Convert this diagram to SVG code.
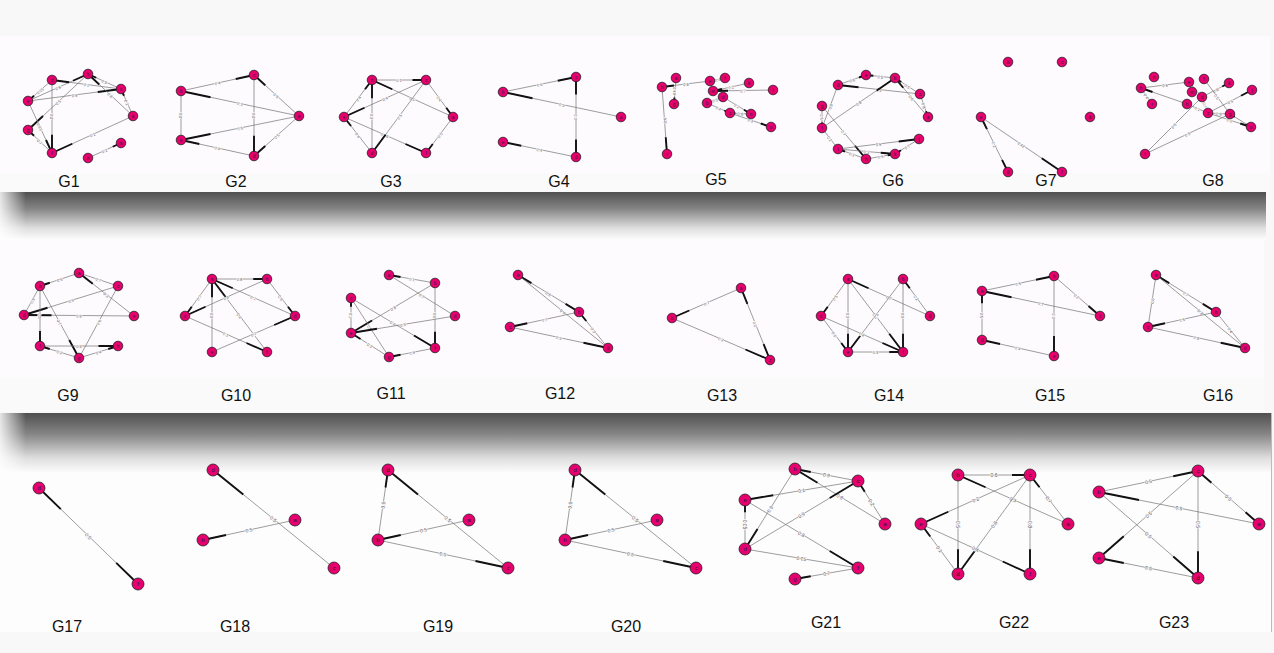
<svg xmlns="http://www.w3.org/2000/svg" xmlns:xlink="http://www.w3.org/1999/xlink" width="1274" height="653" viewBox="0 0 1274 653">
<style>
.e{fill:none;stroke:#7c7c7c;stroke-width:.75}
.s,.f,.b{fill:none;stroke:#111;stroke-width:1.9}
.s{stroke-dasharray:25 300}
.f{stroke-dasharray:0 75 25 300}
.b{stroke-dasharray:22 56 22 300}
.l{font-family:"Liberation Sans",Arial,sans-serif;font-size:4px;fill:#555;text-anchor:middle;dominant-baseline:central;stroke:#fefcfe;stroke-width:1.2;paint-order:stroke}
.l3{font-size:5px}
.n{fill:#e6006f;stroke:#222;stroke-width:.8}
.nl{font-family:"Liberation Sans",Arial,sans-serif;font-size:4.5px;fill:#222;text-anchor:middle}
.r3 .nl{font-size:6px}
.gl{font-family:"Liberation Sans",Arial,sans-serif;font-size:16px;fill:#111;text-anchor:middle}
</style>
<defs>
<linearGradient id="band" x1="0" y1="0" x2="0" y2="1"><stop offset="0" stop-color="#505050"/><stop offset=".35" stop-color="#858585"/><stop offset=".75" stop-color="#dedede"/><stop offset="1" stop-color="#fdfdfd"/></linearGradient>
<linearGradient id="lf" x1="0" y1="0" x2="1" y2="0"><stop offset="0" stop-color="#fff" stop-opacity=".85"/><stop offset="1" stop-color="#fff" stop-opacity="0"/></linearGradient>
<path id="p1_1" pathLength="100" d="M28 101L52 80"/><path id="p1_2" pathLength="100" d="M28 101L88 74"/><path id="p1_3" pathLength="100" d="M28 101L121 89"/><path id="p1_4" pathLength="100" d="M52 80L121 89"/><path id="p1_5" pathLength="100" d="M88 74L121 89"/><path id="p1_6" pathLength="100" d="M88 74L133 116"/><path id="p1_7" pathLength="100" d="M121 89L133 116"/><path id="p1_8" pathLength="100" d="M52 80L52 153"/><path id="p1_9" pathLength="100" d="M28 130L88 74"/><path id="p1_10" pathLength="100" d="M28 101L52 153"/><path id="p1_11" pathLength="100" d="M28 130L52 153"/><path id="p1_12" pathLength="100" d="M52 153L133 116"/><path id="p1_13" pathLength="100" d="M88 158L121 143"/>
<path id="p2_1" pathLength="100" d="M181 91L254 75"/><path id="p2_2" pathLength="100" d="M181 91L299 116"/><path id="p2_3" pathLength="100" d="M181 91L181 140"/><path id="p2_4" pathLength="100" d="M254 75L254 156"/><path id="p2_5" pathLength="100" d="M254 75L299 116"/><path id="p2_6" pathLength="100" d="M181 140L299 116"/><path id="p2_7" pathLength="100" d="M181 140L254 156"/><path id="p2_8" pathLength="100" d="M254 156L299 116"/>
<path id="p3_1" pathLength="100" d="M372 80L426 80"/><path id="p3_2" pathLength="100" d="M344 117L372 80"/><path id="p3_3" pathLength="100" d="M372 80L372 153"/><path id="p3_4" pathLength="100" d="M372 80L453 117"/><path id="p3_5" pathLength="100" d="M344 117L426 80"/><path id="p3_6" pathLength="100" d="M344 117L372 153"/><path id="p3_7" pathLength="100" d="M344 117L426 153"/><path id="p3_8" pathLength="100" d="M372 153L426 80"/><path id="p3_9" pathLength="100" d="M426 80L453 117"/><path id="p3_10" pathLength="100" d="M426 153L453 117"/>
<path id="p4_1" pathLength="100" d="M503 92L576 77"/><path id="p4_2" pathLength="100" d="M503 92L621 117"/><path id="p4_3" pathLength="100" d="M576 77L576 157"/><path id="p4_4" pathLength="100" d="M503 142L576 157"/>
<path id="p5_1" pathLength="100" d="M662 87L710 81"/><path id="p5_2" pathLength="100" d="M667 154L662 87"/><path id="p5_3" pathLength="100" d="M676 78L674 104"/><path id="p5_4" pathLength="100" d="M710 81L725 78"/><path id="p5_5" pathLength="100" d="M713 91L749 83"/><path id="p5_6" pathLength="100" d="M713 91L773 90"/><path id="p5_7" pathLength="100" d="M707 103L723 97"/><path id="p5_8" pathLength="100" d="M723 97L751 114"/><path id="p5_9" pathLength="100" d="M707 103L730 113"/><path id="p5_10" pathLength="100" d="M730 113L751 114"/><path id="p5_11" pathLength="100" d="M730 113L771 127"/>
<path id="p6_1" pathLength="100" d="M838 85L866 75"/><path id="p6_2" pathLength="100" d="M866 75L895 78"/><path id="p6_3" pathLength="100" d="M838 85L920 94"/><path id="p6_4" pathLength="100" d="M822 128L895 78"/><path id="p6_5" pathLength="100" d="M895 78L920 94"/><path id="p6_6" pathLength="100" d="M895 78L928 117"/><path id="p6_7" pathLength="100" d="M920 94L928 117"/><path id="p6_8" pathLength="100" d="M822 106L822 128"/><path id="p6_9" pathLength="100" d="M822 128L838 85"/><path id="p6_10" pathLength="100" d="M822 106L866 159"/><path id="p6_11" pathLength="100" d="M822 128L838 149"/><path id="p6_12" pathLength="100" d="M838 149L919 139"/><path id="p6_13" pathLength="100" d="M838 149L866 159"/><path id="p6_14" pathLength="100" d="M838 149L895 154"/><path id="p6_15" pathLength="100" d="M866 159L895 154"/><path id="p6_16" pathLength="100" d="M895 154L919 139"/>
<path id="p7_1" pathLength="100" d="M981 117L1008 172"/><path id="p7_2" pathLength="100" d="M981 117L1062 172"/>
<path id="p8_1" pathLength="100" d="M1141 88L1189 82"/><path id="p8_2" pathLength="100" d="M1141 88L1152 104"/><path id="p8_3" pathLength="100" d="M1141 88L1187 104"/><path id="p8_4" pathLength="100" d="M1189 82L1202 97"/><path id="p8_5" pathLength="100" d="M1202 97L1229 83"/><path id="p8_6" pathLength="100" d="M1204 79L1230 114"/><path id="p8_7" pathLength="100" d="M1208 113L1252 90"/><path id="p8_8" pathLength="100" d="M1202 97L1208 113"/><path id="p8_9" pathLength="100" d="M1208 113L1230 114"/><path id="p8_10" pathLength="100" d="M1208 113L1251 127"/><path id="p8_11" pathLength="100" d="M1230 114L1251 127"/><path id="p8_12" pathLength="100" d="M1145 154L1202 97"/><path id="p8_13" pathLength="100" d="M1145 154L1230 114"/><path id="p8_14" pathLength="100" d="M1187 104L1208 113"/>
<path id="p9_1" pathLength="100" d="M40 286L79 273"/><path id="p9_2" pathLength="100" d="M79 273L118 286"/><path id="p9_3" pathLength="100" d="M79 273L134 316"/><path id="p9_4" pathLength="100" d="M24 315L40 286"/><path id="p9_5" pathLength="100" d="M40 286L79 358"/><path id="p9_6" pathLength="100" d="M24 315L118 286"/><path id="p9_7" pathLength="100" d="M24 315L134 316"/><path id="p9_8" pathLength="100" d="M40 286L40 346"/><path id="p9_9" pathLength="100" d="M79 358L118 286"/><path id="p9_10" pathLength="100" d="M40 346L79 358"/><path id="p9_11" pathLength="100" d="M40 346L118 346"/><path id="p9_12" pathLength="100" d="M79 358L118 346"/>
<path id="p10_1" pathLength="100" d="M212 279L267 279"/><path id="p10_2" pathLength="100" d="M185 316L212 279"/><path id="p10_3" pathLength="100" d="M212 279L212 352"/><path id="p10_4" pathLength="100" d="M212 279L295 316"/><path id="p10_5" pathLength="100" d="M212 279L267 352"/><path id="p10_6" pathLength="100" d="M185 316L267 279"/><path id="p10_7" pathLength="100" d="M267 279L295 316"/><path id="p10_8" pathLength="100" d="M185 316L267 352"/><path id="p10_9" pathLength="100" d="M212 352L295 316"/>
<path id="p11_1" pathLength="100" d="M389 275L435 283"/><path id="p11_2" pathLength="100" d="M389 275L455 316"/><path id="p11_3" pathLength="100" d="M351 333L435 283"/><path id="p11_4" pathLength="100" d="M435 283L435 348"/><path id="p11_5" pathLength="100" d="M351 298L351 333"/><path id="p11_6" pathLength="100" d="M351 298L435 348"/><path id="p11_7" pathLength="100" d="M351 298L389 357"/><path id="p11_8" pathLength="100" d="M351 333L455 316"/><path id="p11_9" pathLength="100" d="M351 333L389 357"/><path id="p11_10" pathLength="100" d="M389 357L435 348"/>
<path id="p12_1" pathLength="100" d="M518 275L579 312"/><path id="p12_2" pathLength="100" d="M518 275L608 348"/><path id="p12_3" pathLength="100" d="M510 327L579 312"/><path id="p12_4" pathLength="100" d="M510 327L608 348"/><path id="p12_5" pathLength="100" d="M579 312L608 348"/>
<path id="p13_1" pathLength="100" d="M672 318L741 288"/><path id="p13_2" pathLength="100" d="M741 288L770 360"/><path id="p13_3" pathLength="100" d="M672 318L770 360"/>
<path id="p14_1" pathLength="100" d="M821 316L848 279"/><path id="p14_2" pathLength="100" d="M848 279L848 352"/><path id="p14_3" pathLength="100" d="M848 279L930 316"/><path id="p14_4" pathLength="100" d="M848 279L903 352"/><path id="p14_5" pathLength="100" d="M848 352L903 279"/><path id="p14_6" pathLength="100" d="M903 279L903 352"/><path id="p14_7" pathLength="100" d="M903 279L930 316"/><path id="p14_8" pathLength="100" d="M821 316L848 352"/><path id="p14_9" pathLength="100" d="M821 316L903 352"/><path id="p14_10" pathLength="100" d="M848 352L903 352"/>
<path id="p15_1" pathLength="100" d="M982 291L1054 276"/><path id="p15_2" pathLength="100" d="M982 291L1100 316"/><path id="p15_3" pathLength="100" d="M1054 276L1100 316"/><path id="p15_4" pathLength="100" d="M1054 276L1054 356"/><path id="p15_5" pathLength="100" d="M982 291L982 340"/><path id="p15_6" pathLength="100" d="M982 340L1054 356"/>
<path id="p16_1" pathLength="100" d="M1156 275L1216 312"/><path id="p16_2" pathLength="100" d="M1148 327L1156 275"/><path id="p16_3" pathLength="100" d="M1156 275L1245 348"/><path id="p16_4" pathLength="100" d="M1148 327L1216 312"/><path id="p16_5" pathLength="100" d="M1148 327L1245 348"/><path id="p16_6" pathLength="100" d="M1216 312L1245 348"/>
<path id="p17_1" pathLength="100" d="M39 488L138 584"/>
<path id="p18_1" pathLength="100" d="M213 470L334 568"/><path id="p18_2" pathLength="100" d="M203 540L295 520"/>
<path id="p19_1" pathLength="100" d="M378 540L388 470"/><path id="p19_2" pathLength="100" d="M388 470L508 568"/><path id="p19_3" pathLength="100" d="M378 540L469 520"/><path id="p19_4" pathLength="100" d="M378 540L508 568"/>
<path id="p20_1" pathLength="100" d="M565 540L575 470"/><path id="p20_2" pathLength="100" d="M575 470L696 568"/><path id="p20_3" pathLength="100" d="M565 540L657 520"/><path id="p20_4" pathLength="100" d="M565 540L696 568"/>
<path id="p21_1" pathLength="100" d="M795 469L858 481"/><path id="p21_2" pathLength="100" d="M795 469L885 524"/><path id="p21_3" pathLength="100" d="M745 549L795 469"/><path id="p21_4" pathLength="100" d="M745 500L858 481"/><path id="p21_5" pathLength="100" d="M745 500L745 549"/><path id="p21_6" pathLength="100" d="M745 500L858 568"/><path id="p21_7" pathLength="100" d="M745 549L858 481"/><path id="p21_8" pathLength="100" d="M745 549L858 568"/><path id="p21_9" pathLength="100" d="M858 481L885 524"/><path id="p21_10" pathLength="100" d="M795 579L858 568"/>
<path id="p22_1" pathLength="100" d="M958 475L1030 475"/><path id="p22_2" pathLength="100" d="M958 475L1068 524"/><path id="p22_3" pathLength="100" d="M958 475L958 574"/><path id="p22_4" pathLength="100" d="M921 524L1030 475"/><path id="p22_5" pathLength="100" d="M1030 475L1068 524"/><path id="p22_6" pathLength="100" d="M958 574L1030 475"/><path id="p22_7" pathLength="100" d="M1030 475L1030 574"/><path id="p22_8" pathLength="100" d="M921 524L958 574"/><path id="p22_9" pathLength="100" d="M921 524L1030 574"/>
<path id="p23_1" pathLength="100" d="M1099 492L1198 471"/><path id="p23_2" pathLength="100" d="M1198 471L1259 524"/><path id="p23_3" pathLength="100" d="M1099 492L1259 524"/><path id="p23_4" pathLength="100" d="M1099 558L1198 471"/><path id="p23_5" pathLength="100" d="M1198 471L1198 578"/><path id="p23_6" pathLength="100" d="M1099 492L1198 578"/><path id="p23_7" pathLength="100" d="M1099 558L1198 578"/>
</defs>

<g id="background">
<rect width="1274" height="653" fill="#f8f8f8"/>
<rect x="0" y="36" width="1270" height="137" fill="#fefbfe"/>
<rect x="0" y="173" width="1270" height="19" fill="#fafafa"/>
<rect x="0" y="192" width="1266" height="48" fill="url(#band)"/>
<rect x="0" y="192" width="26" height="48" fill="url(#lf)"/>
<rect x="0" y="240" width="1264" height="138" fill="#fefbfe"/>
<rect x="0" y="378" width="1264" height="34" fill="#fafafa"/>
<rect x="0" y="413" width="1272" height="60" fill="url(#band)"/>
<rect x="0" y="413" width="26" height="60" fill="url(#lf)"/>
<rect x="0" y="473" width="1272" height="159" fill="#fefdfe"/>
<line x1="1271.5" y1="413" x2="1271.5" y2="632" stroke="#bbb" stroke-width="1"/>
</g>

<!-- Row 1 -->
<g id="G1">
<g class="connectors">
<use href="#p1_1" class="e"/><use href="#p1_1" class="s"/><text class="l"><textPath href="#p1_1" startOffset="50%">0.05</textPath></text>
<use href="#p1_2" class="e"/><use href="#p1_2" class="f"/><text class="l"><textPath href="#p1_2" startOffset="50%">0.6</textPath></text>
<use href="#p1_3" class="e"/><use href="#p1_3" class="f"/><text class="l"><textPath href="#p1_3" startOffset="50%">0.9</textPath></text>
<use href="#p1_4" class="e"/><use href="#p1_4" class="s"/><text class="l"><textPath href="#p1_4" startOffset="50%">0.1</textPath></text>
<use href="#p1_5" class="e"/><use href="#p1_5" class="s"/><text class="l"><textPath href="#p1_5" startOffset="50%">0.9</textPath></text>
<use href="#p1_6" class="e"/><use href="#p1_6" class="s"/><text class="l"><textPath href="#p1_6" startOffset="50%">0.8</textPath></text>
<use href="#p1_7" class="e"/><use href="#p1_7" class="s"/><text class="l"><textPath href="#p1_7" startOffset="50%">0.2</textPath></text>
<use href="#p1_8" class="e"/><use href="#p1_8" class="f"/><text class="l"><textPath href="#p1_8" startOffset="50%">0.4</textPath></text>
<use href="#p1_9" class="e"/><use href="#p1_9" class="s"/><text class="l"><textPath href="#p1_9" startOffset="50%">0.5</textPath></text>
<use href="#p1_10" class="e"/><use href="#p1_10" class="f"/><text class="l"><textPath href="#p1_10" startOffset="50%">0.05</textPath></text>
<use href="#p1_11" class="e"/><use href="#p1_11" class="s"/><text class="l"><textPath href="#p1_11" startOffset="50%">0.7</textPath></text>
<use href="#p1_12" class="e"/><use href="#p1_12" class="s"/><text class="l"><textPath href="#p1_12" startOffset="50%">0.1</textPath></text>
<use href="#p1_13" class="e"/><use href="#p1_13" class="f"/><text class="l"><textPath href="#p1_13" startOffset="50%">0.2</textPath></text>
</g>
<g id="G1-d"><circle class="n" cx="52" cy="80" r="4.8"/><text class="nl" x="52" y="81.6">d</text></g>
<g id="G1-b"><circle class="n" cx="88" cy="74" r="4.8"/><text class="nl" x="88" y="75.6">b</text></g>
<g id="G1-c"><circle class="n" cx="121" cy="89" r="4.8"/><text class="nl" x="121" y="90.6">c</text></g>
<g id="G1-a"><circle class="n" cx="133" cy="116" r="4.8"/><text class="nl" x="133" y="117.6">a</text></g>
<g id="G1-e"><circle class="n" cx="28" cy="101" r="4.8"/><text class="nl" x="28" y="102.6">e</text></g>
<g id="G1-g"><circle class="n" cx="28" cy="130" r="4.8"/><text class="nl" x="28" y="131.6">g</text></g>
<g id="G1-f"><circle class="n" cx="52" cy="153" r="4.8"/><text class="nl" x="52" y="154.6">f</text></g>
<g id="G1-h"><circle class="n" cx="88" cy="158" r="4.8"/><text class="nl" x="88" y="159.6">h</text></g>
<g id="G1-m"><circle class="n" cx="121" cy="143" r="4.8"/><text class="nl" x="121" y="144.6">m</text></g>
<text class="gl" x="69" y="187">G1</text>
</g>

<g id="G2">
<g class="connectors">
<use href="#p2_1" class="e"/><use href="#p2_1" class="f"/><text class="l"><textPath href="#p2_1" startOffset="50%">0.4</textPath></text>
<use href="#p2_2" class="e"/><use href="#p2_2" class="s"/><text class="l"><textPath href="#p2_2" startOffset="50%">0.3</textPath></text>
<use href="#p2_3" class="e"/><text class="l"><textPath href="#p2_3" startOffset="50%">0.4</textPath></text>
<use href="#p2_4" class="e"/><use href="#p2_4" class="f"/><text class="l"><textPath href="#p2_4" startOffset="50%">0.4</textPath></text>
<use href="#p2_5" class="e"/><use href="#p2_5" class="s"/><text class="l"><textPath href="#p2_5" startOffset="50%">0.5</textPath></text>
<use href="#p2_6" class="e"/><use href="#p2_6" class="s"/><text class="l"><textPath href="#p2_6" startOffset="50%">0.5</textPath></text>
<use href="#p2_7" class="e"/><use href="#p2_7" class="s"/><text class="l"><textPath href="#p2_7" startOffset="50%">0.4</textPath></text>
<use href="#p2_8" class="e"/><use href="#p2_8" class="s"/><text class="l"><textPath href="#p2_8" startOffset="50%">0.5</textPath></text>
</g>
<g id="G2-b"><circle class="n" cx="181" cy="91" r="4.8"/><text class="nl" x="181" y="92.6">b</text></g>
<g id="G2-c"><circle class="n" cx="254" cy="75" r="4.8"/><text class="nl" x="254" y="76.6">c</text></g>
<g id="G2-a"><circle class="n" cx="299" cy="116" r="4.8"/><text class="nl" x="299" y="117.6">a</text></g>
<g id="G2-e"><circle class="n" cx="181" cy="140" r="4.8"/><text class="nl" x="181" y="141.6">e</text></g>
<g id="G2-d"><circle class="n" cx="254" cy="156" r="4.8"/><text class="nl" x="254" y="157.6">d</text></g>
<text class="gl" x="236" y="187">G2</text>
</g>

<g id="G3">
<g class="connectors">
<use href="#p3_1" class="e"/><use href="#p3_1" class="f"/><text class="l"><textPath href="#p3_1" startOffset="50%">0.1</textPath></text>
<use href="#p3_2" class="e"/><use href="#p3_2" class="f"/><text class="l"><textPath href="#p3_2" startOffset="50%">0.4</textPath></text>
<use href="#p3_3" class="e"/><use href="#p3_3" class="s"/><text class="l"><textPath href="#p3_3" startOffset="50%">0.2</textPath></text>
<use href="#p3_4" class="e"/><use href="#p3_4" class="s"/><text class="l"><textPath href="#p3_4" startOffset="50%">0.5</textPath></text>
<use href="#p3_5" class="e"/><use href="#p3_5" class="s"/><text class="l"><textPath href="#p3_5" startOffset="50%">0.4</textPath></text>
<use href="#p3_6" class="e"/><use href="#p3_6" class="s"/><text class="l"><textPath href="#p3_6" startOffset="50%">0.4</textPath></text>
<use href="#p3_7" class="e"/><use href="#p3_7" class="f"/><text class="l"><textPath href="#p3_7" startOffset="50%">0.06</textPath></text>
<use href="#p3_8" class="e"/><use href="#p3_8" class="s"/><text class="l"><textPath href="#p3_8" startOffset="50%">0.5</textPath></text>
<use href="#p3_9" class="e"/><use href="#p3_9" class="f"/><text class="l"><textPath href="#p3_9" startOffset="50%">0.4</textPath></text>
<use href="#p3_10" class="e"/><use href="#p3_10" class="s"/><text class="l"><textPath href="#p3_10" startOffset="50%">0.5</textPath></text>
</g>
<g id="G3-b"><circle class="n" cx="372" cy="80" r="4.8"/><text class="nl" x="372" y="81.6">b</text></g>
<g id="G3-c"><circle class="n" cx="426" cy="80" r="4.8"/><text class="nl" x="426" y="81.6">c</text></g>
<g id="G3-e"><circle class="n" cx="344" cy="117" r="4.8"/><text class="nl" x="344" y="118.6">e</text></g>
<g id="G3-d"><circle class="n" cx="372" cy="153" r="4.8"/><text class="nl" x="372" y="154.6">d</text></g>
<g id="G3-f"><circle class="n" cx="426" cy="153" r="4.8"/><text class="nl" x="426" y="154.6">f</text></g>
<g id="G3-a"><circle class="n" cx="453" cy="117" r="4.8"/><text class="nl" x="453" y="118.6">a</text></g>
<text class="gl" x="391" y="187">G3</text>
</g>

<g id="G4">
<g class="connectors">
<use href="#p4_1" class="e"/><use href="#p4_1" class="f"/><text class="l"><textPath href="#p4_1" startOffset="50%">0.6</textPath></text>
<use href="#p4_2" class="e"/><use href="#p4_2" class="s"/><text class="l"><textPath href="#p4_2" startOffset="50%">0.5</textPath></text>
<use href="#p4_3" class="e"/><use href="#p4_3" class="b"/><text class="l"><textPath href="#p4_3" startOffset="50%">0.3</textPath></text>
<use href="#p4_4" class="e"/><use href="#p4_4" class="s"/><text class="l"><textPath href="#p4_4" startOffset="50%">0.4</textPath></text>
</g>
<g id="G4-b"><circle class="n" cx="503" cy="92" r="4.8"/><text class="nl" x="503" y="93.6">b</text></g>
<g id="G4-c"><circle class="n" cx="576" cy="77" r="4.8"/><text class="nl" x="576" y="78.6">c</text></g>
<g id="G4-a"><circle class="n" cx="621" cy="117" r="4.8"/><text class="nl" x="621" y="118.6">a</text></g>
<g id="G4-e"><circle class="n" cx="503" cy="142" r="4.8"/><text class="nl" x="503" y="143.6">e</text></g>
<g id="G4-d"><circle class="n" cx="576" cy="157" r="4.8"/><text class="nl" x="576" y="158.6">d</text></g>
<text class="gl" x="559" y="187">G4</text>
</g>

<g id="G5">
<g class="connectors">
<use href="#p5_1" class="e"/><use href="#p5_1" class="s"/><text class="l"><textPath href="#p5_1" startOffset="50%">0.6</textPath></text>
<use href="#p5_2" class="e"/><use href="#p5_2" class="s"/><text class="l"><textPath href="#p5_2" startOffset="50%">0.6</textPath></text>
<use href="#p5_3" class="e"/><use href="#p5_3" class="f"/><text class="l"><textPath href="#p5_3" startOffset="50%">0.48</textPath></text>
<use href="#p5_4" class="e"/><use href="#p5_4" class="f"/><text class="l"><textPath href="#p5_4" startOffset="50%">0.4</textPath></text>
<use href="#p5_5" class="e"/><use href="#p5_5" class="s"/><text class="l"><textPath href="#p5_5" startOffset="50%">0.2</textPath></text>
<use href="#p5_6" class="e"/><use href="#p5_6" class="s"/><text class="l"><textPath href="#p5_6" startOffset="50%">0.7</textPath></text>
<use href="#p5_7" class="e"/><text class="l"><textPath href="#p5_7" startOffset="50%">0.5</textPath></text>
<use href="#p5_8" class="e"/><use href="#p5_8" class="f"/><text class="l"><textPath href="#p5_8" startOffset="50%">0.2</textPath></text>
<use href="#p5_9" class="e"/><use href="#p5_9" class="f"/><text class="l"><textPath href="#p5_9" startOffset="50%">0.4</textPath></text>
<use href="#p5_10" class="e"/><use href="#p5_10" class="s"/><text class="l"><textPath href="#p5_10" startOffset="50%">0.6</textPath></text>
<use href="#p5_11" class="e"/><use href="#p5_11" class="f"/><text class="l"><textPath href="#p5_11" startOffset="50%">0.3</textPath></text>
</g>
<g id="G5-h"><circle class="n" cx="662" cy="87" r="4.8"/><text class="nl" x="662" y="88.6">h</text></g>
<g id="G5-a"><circle class="n" cx="676" cy="78" r="4.8"/><text class="nl" x="676" y="79.6">a</text></g>
<g id="G5-g"><circle class="n" cx="674" cy="104" r="4.8"/><text class="nl" x="674" y="105.6">g</text></g>
<g id="G5-i"><circle class="n" cx="667" cy="154" r="4.8"/><text class="nl" x="667" y="155.6">i</text></g>
<g id="G5-e"><circle class="n" cx="710" cy="81" r="4.8"/><text class="nl" x="710" y="82.6">e</text></g>
<g id="G5-f"><circle class="n" cx="725" cy="78" r="4.8"/><text class="nl" x="725" y="79.6">f</text></g>
<g id="G5-k"><circle class="n" cx="749" cy="83" r="4.8"/><text class="nl" x="749" y="84.6">k</text></g>
<g id="G5-l"><circle class="n" cx="773" cy="90" r="4.8"/><text class="nl" x="773" y="91.6">l</text></g>
<g id="G5-m"><circle class="n" cx="713" cy="91" r="4.8"/><text class="nl" x="713" y="92.6">m</text></g>
<g id="G5-d"><circle class="n" cx="723" cy="97" r="4.8"/><text class="nl" x="723" y="98.6">d</text></g>
<g id="G5-b"><circle class="n" cx="707" cy="103" r="4.8"/><text class="nl" x="707" y="104.6">b</text></g>
<g id="G5-c"><circle class="n" cx="730" cy="113" r="4.8"/><text class="nl" x="730" y="114.6">c</text></g>
<g id="G5-n"><circle class="n" cx="751" cy="114" r="4.8"/><text class="nl" x="751" y="115.6">n</text></g>
<g id="G5-o"><circle class="n" cx="771" cy="127" r="4.8"/><text class="nl" x="771" y="128.6">o</text></g>
<text class="gl" x="716" y="185">G5</text>
</g>

<g id="G6">
<g class="connectors">
<use href="#p6_1" class="e"/><use href="#p6_1" class="f"/><text class="l"><textPath href="#p6_1" startOffset="50%">0.6</textPath></text>
<use href="#p6_2" class="e"/><use href="#p6_2" class="s"/><text class="l"><textPath href="#p6_2" startOffset="50%">0.5</textPath></text>
<use href="#p6_3" class="e"/><use href="#p6_3" class="s"/><text class="l"><textPath href="#p6_3" startOffset="50%">0.3</textPath></text>
<use href="#p6_4" class="e"/><use href="#p6_4" class="f"/><text class="l"><textPath href="#p6_4" startOffset="50%">0.8</textPath></text>
<use href="#p6_5" class="e"/><use href="#p6_5" class="s"/><text class="l"><textPath href="#p6_5" startOffset="50%">0.5</textPath></text>
<use href="#p6_6" class="e"/><use href="#p6_6" class="s"/><text class="l"><textPath href="#p6_6" startOffset="50%">0.6</textPath></text>
<use href="#p6_7" class="e"/><use href="#p6_7" class="f"/><text class="l"><textPath href="#p6_7" startOffset="50%">0.8</textPath></text>
<use href="#p6_8" class="e"/><use href="#p6_8" class="f"/><text class="l"><textPath href="#p6_8" startOffset="50%">0.5</textPath></text>
<use href="#p6_9" class="e"/><text class="l"><textPath href="#p6_9" startOffset="50%">0.8</textPath></text>
<use href="#p6_10" class="e"/><use href="#p6_10" class="f"/><text class="l"><textPath href="#p6_10" startOffset="50%">0.7</textPath></text>
<use href="#p6_11" class="e"/><text class="l"><textPath href="#p6_11" startOffset="50%">0.2</textPath></text>
<use href="#p6_12" class="e"/><use href="#p6_12" class="f"/><text class="l"><textPath href="#p6_12" startOffset="50%">0.5</textPath></text>
<use href="#p6_13" class="e"/><use href="#p6_13" class="s"/><text class="l"><textPath href="#p6_13" startOffset="50%">0.3</textPath></text>
<use href="#p6_14" class="e"/><use href="#p6_14" class="f"/><text class="l"><textPath href="#p6_14" startOffset="50%">0.3</textPath></text>
<use href="#p6_15" class="e"/><use href="#p6_15" class="f"/><text class="l"><textPath href="#p6_15" startOffset="50%">0.5</textPath></text>
<use href="#p6_16" class="e"/><use href="#p6_16" class="s"/><text class="l"><textPath href="#p6_16" startOffset="50%">0.7</textPath></text>
</g>
<g id="G6-e"><circle class="n" cx="866" cy="75" r="4.8"/><text class="nl" x="866" y="76.6">e</text></g>
<g id="G6-b"><circle class="n" cx="895" cy="78" r="4.8"/><text class="nl" x="895" y="79.6">b</text></g>
<g id="G6-d"><circle class="n" cx="838" cy="85" r="4.8"/><text class="nl" x="838" y="86.6">d</text></g>
<g id="G6-c"><circle class="n" cx="920" cy="94" r="4.8"/><text class="nl" x="920" y="95.6">c</text></g>
<g id="G6-a"><circle class="n" cx="928" cy="117" r="4.8"/><text class="nl" x="928" y="118.6">a</text></g>
<g id="G6-g"><circle class="n" cx="822" cy="106" r="4.8"/><text class="nl" x="822" y="107.6">g</text></g>
<g id="G6-f"><circle class="n" cx="822" cy="128" r="4.8"/><text class="nl" x="822" y="129.6">f</text></g>
<g id="G6-i"><circle class="n" cx="838" cy="149" r="4.8"/><text class="nl" x="838" y="150.6">i</text></g>
<g id="G6-h"><circle class="n" cx="866" cy="159" r="4.8"/><text class="nl" x="866" y="160.6">h</text></g>
<g id="G6-k"><circle class="n" cx="895" cy="154" r="4.8"/><text class="nl" x="895" y="155.6">k</text></g>
<g id="G6-j"><circle class="n" cx="919" cy="139" r="4.8"/><text class="nl" x="919" y="140.6">j</text></g>
<text class="gl" x="893" y="186">G6</text>
</g>

<g id="G7">
<g class="connectors">
<use href="#p7_1" class="e"/><use href="#p7_1" class="b"/><text class="l"><textPath href="#p7_1" startOffset="50%">0.2</textPath></text>
<use href="#p7_2" class="e"/><use href="#p7_2" class="f"/><text class="l"><textPath href="#p7_2" startOffset="50%">0.42</textPath></text>
</g>
<g id="G7-b"><circle class="n" cx="1008" cy="62" r="4.8"/><text class="nl" x="1008" y="63.6">b</text></g>
<g id="G7-c"><circle class="n" cx="1062" cy="62" r="4.8"/><text class="nl" x="1062" y="63.6">c</text></g>
<g id="G7-e"><circle class="n" cx="981" cy="117" r="4.8"/><text class="nl" x="981" y="118.6">e</text></g>
<g id="G7-a"><circle class="n" cx="1090" cy="117" r="4.8"/><text class="nl" x="1090" y="118.6">a</text></g>
<g id="G7-d"><circle class="n" cx="1008" cy="172" r="4.8"/><text class="nl" x="1008" y="173.6">d</text></g>
<g id="G7-f"><circle class="n" cx="1062" cy="172" r="4.8"/><text class="nl" x="1062" y="173.6">f</text></g>
<text class="gl" x="1046" y="186">G7</text>
</g>

<g id="G8">
<g class="connectors">
<use href="#p8_1" class="e"/><text class="l"><textPath href="#p8_1" startOffset="50%">0.5</textPath></text>
<use href="#p8_2" class="e"/><use href="#p8_2" class="f"/><text class="l"><textPath href="#p8_2" startOffset="50%">0.4</textPath></text>
<use href="#p8_3" class="e"/><use href="#p8_3" class="s"/>
<use href="#p8_4" class="e"/><use href="#p8_4" class="s"/><text class="l"><textPath href="#p8_4" startOffset="50%">0.5</textPath></text>
<use href="#p8_5" class="e"/><use href="#p8_5" class="f"/><text class="l"><textPath href="#p8_5" startOffset="50%">0.6</textPath></text>
<use href="#p8_6" class="e"/><text class="l"><textPath href="#p8_6" startOffset="50%">0.5</textPath></text>
<use href="#p8_7" class="e"/><use href="#p8_7" class="f"/><text class="l"><textPath href="#p8_7" startOffset="50%">0.5</textPath></text>
<use href="#p8_8" class="e"/><text class="l"><textPath href="#p8_8" startOffset="50%">0.7</textPath></text>
<use href="#p8_9" class="e"/><text class="l"><textPath href="#p8_9" startOffset="50%">0.6</textPath></text>
<use href="#p8_10" class="e"/><use href="#p8_10" class="f"/><text class="l"><textPath href="#p8_10" startOffset="50%">0.1</textPath></text>
<use href="#p8_11" class="e"/><use href="#p8_11" class="b"/>
<use href="#p8_12" class="e"/><text class="l"><textPath href="#p8_12" startOffset="50%">0.5</textPath></text>
<use href="#p8_13" class="e"/><text class="l"><textPath href="#p8_13" startOffset="50%">0.5</textPath></text>
<use href="#p8_14" class="e"/><text class="l"><textPath href="#p8_14" startOffset="50%">0.1</textPath></text>
</g>
<g id="G8-h"><circle class="n" cx="1141" cy="88" r="4.8"/><text class="nl" x="1141" y="89.6">h</text></g>
<g id="G8-n"><circle class="n" cx="1154" cy="77" r="4.8"/><text class="nl" x="1154" y="78.6">n</text></g>
<g id="G8-i"><circle class="n" cx="1152" cy="104" r="4.8"/><text class="nl" x="1152" y="105.6">i</text></g>
<g id="G8-e"><circle class="n" cx="1189" cy="82" r="4.8"/><text class="nl" x="1189" y="83.6">e</text></g>
<g id="G8-m"><circle class="n" cx="1192" cy="92" r="4.8"/><text class="nl" x="1192" y="93.6">m</text></g>
<g id="G8-f"><circle class="n" cx="1204" cy="79" r="4.8"/><text class="nl" x="1204" y="80.6">f</text></g>
<g id="G8-k"><circle class="n" cx="1229" cy="83" r="4.8"/><text class="nl" x="1229" y="84.6">k</text></g>
<g id="G8-j"><circle class="n" cx="1252" cy="90" r="4.8"/><text class="nl" x="1252" y="91.6">j</text></g>
<g id="G8-d"><circle class="n" cx="1202" cy="97" r="4.8"/><text class="nl" x="1202" y="98.6">d</text></g>
<g id="G8-b"><circle class="n" cx="1187" cy="104" r="4.8"/><text class="nl" x="1187" y="105.6">b</text></g>
<g id="G8-c"><circle class="n" cx="1208" cy="113" r="4.8"/><text class="nl" x="1208" y="114.6">c</text></g>
<g id="G8-g"><circle class="n" cx="1230" cy="114" r="4.8"/><text class="nl" x="1230" y="115.6">g</text></g>
<g id="G8-o"><circle class="n" cx="1251" cy="127" r="4.8"/><text class="nl" x="1251" y="128.6">o</text></g>
<g id="G8-l"><circle class="n" cx="1145" cy="154" r="4.8"/><text class="nl" x="1145" y="155.6">l</text></g>
<text class="gl" x="1213" y="186">G8</text>
</g>

<!-- Row 2 -->
<g id="G9">
<g class="connectors">
<use href="#p9_1" class="e"/><use href="#p9_1" class="s"/><text class="l"><textPath href="#p9_1" startOffset="50%">0.5</textPath></text>
<use href="#p9_2" class="e"/><text class="l"><textPath href="#p9_2" startOffset="50%">0.7</textPath></text>
<use href="#p9_3" class="e"/><use href="#p9_3" class="s"/><text class="l"><textPath href="#p9_3" startOffset="50%">0.3</textPath></text>
<use href="#p9_4" class="e"/><text class="l"><textPath href="#p9_4" startOffset="50%">0.8</textPath></text>
<use href="#p9_5" class="e"/><use href="#p9_5" class="f"/><text class="l"><textPath href="#p9_5" startOffset="50%">0.7</textPath></text>
<use href="#p9_6" class="e"/><use href="#p9_6" class="s"/><text class="l"><textPath href="#p9_6" startOffset="50%">0.5</textPath></text>
<use href="#p9_7" class="e"/><use href="#p9_7" class="s"/><text class="l"><textPath href="#p9_7" startOffset="50%">0.6</textPath></text>
<use href="#p9_8" class="e"/><use href="#p9_8" class="f"/><text class="l"><textPath href="#p9_8" startOffset="50%">0.4</textPath></text>
<use href="#p9_9" class="e"/><text class="l"><textPath href="#p9_9" startOffset="50%">0.6</textPath></text>
<use href="#p9_10" class="e"/><use href="#p9_10" class="s"/><text class="l"><textPath href="#p9_10" startOffset="50%">0.2</textPath></text>
<use href="#p9_11" class="e"/><use href="#p9_11" class="f"/><text class="l"><textPath href="#p9_11" startOffset="50%">0.4</textPath></text>
<use href="#p9_12" class="e"/><use href="#p9_12" class="f"/><text class="l"><textPath href="#p9_12" startOffset="50%">0.4</textPath></text>
</g>
<g id="G9-a"><circle class="n" cx="79" cy="273" r="4.8"/><text class="nl" x="79" y="274.6">a</text></g>
<g id="G9-b"><circle class="n" cx="40" cy="286" r="4.8"/><text class="nl" x="40" y="287.6">b</text></g>
<g id="G9-c"><circle class="n" cx="118" cy="286" r="4.8"/><text class="nl" x="118" y="287.6">c</text></g>
<g id="G9-d"><circle class="n" cx="24" cy="315" r="4.8"/><text class="nl" x="24" y="316.6">d</text></g>
<g id="G9-e"><circle class="n" cx="134" cy="316" r="4.8"/><text class="nl" x="134" y="317.6">e</text></g>
<g id="G9-f"><circle class="n" cx="40" cy="346" r="4.8"/><text class="nl" x="40" y="347.6">f</text></g>
<g id="G9-g"><circle class="n" cx="79" cy="358" r="4.8"/><text class="nl" x="79" y="359.6">g</text></g>
<g id="G9-h"><circle class="n" cx="118" cy="346" r="4.8"/><text class="nl" x="118" y="347.6">h</text></g>
<text class="gl" x="68" y="401">G9</text>
</g>

<g id="G10">
<g class="connectors">
<use href="#p10_1" class="e"/><use href="#p10_1" class="f"/><text class="l"><textPath href="#p10_1" startOffset="50%">0.8</textPath></text>
<use href="#p10_2" class="e"/><use href="#p10_2" class="s"/><text class="l"><textPath href="#p10_2" startOffset="50%">0.7</textPath></text>
<use href="#p10_3" class="e"/><use href="#p10_3" class="s"/><text class="l"><textPath href="#p10_3" startOffset="50%">0.9</textPath></text>
<use href="#p10_4" class="e"/><use href="#p10_4" class="s"/><text class="l"><textPath href="#p10_4" startOffset="50%">0.1</textPath></text>
<use href="#p10_5" class="e"/><use href="#p10_5" class="s"/><text class="l"><textPath href="#p10_5" startOffset="50%">0.4</textPath></text>
<use href="#p10_6" class="e"/><use href="#p10_6" class="s"/><text class="l"><textPath href="#p10_6" startOffset="50%">0.8</textPath></text>
<use href="#p10_7" class="e"/><use href="#p10_7" class="f"/><text class="l"><textPath href="#p10_7" startOffset="50%">0.8</textPath></text>
<use href="#p10_8" class="e"/><use href="#p10_8" class="f"/><text class="l"><textPath href="#p10_8" startOffset="50%">0.1</textPath></text>
<use href="#p10_9" class="e"/><use href="#p10_9" class="f"/><text class="l"><textPath href="#p10_9" startOffset="50%">0.7</textPath></text>
</g>
<g id="G10-a"><circle class="n" cx="212" cy="279" r="4.8"/><text class="nl" x="212" y="280.6">a</text></g>
<g id="G10-b"><circle class="n" cx="267" cy="279" r="4.8"/><text class="nl" x="267" y="280.6">b</text></g>
<g id="G10-c"><circle class="n" cx="185" cy="316" r="4.8"/><text class="nl" x="185" y="317.6">c</text></g>
<g id="G10-d"><circle class="n" cx="295" cy="316" r="4.8"/><text class="nl" x="295" y="317.6">d</text></g>
<g id="G10-e"><circle class="n" cx="212" cy="352" r="4.8"/><text class="nl" x="212" y="353.6">e</text></g>
<g id="G10-f"><circle class="n" cx="267" cy="352" r="4.8"/><text class="nl" x="267" y="353.6">f</text></g>
<text class="gl" x="236" y="401">G10</text>
</g>

<g id="G11">
<g class="connectors">
<use href="#p11_1" class="e"/><use href="#p11_1" class="s"/><text class="l"><textPath href="#p11_1" startOffset="50%">0.1</textPath></text>
<use href="#p11_2" class="e"/><text class="l"><textPath href="#p11_2" startOffset="50%">0.7</textPath></text>
<use href="#p11_3" class="e"/><use href="#p11_3" class="s"/><text class="l"><textPath href="#p11_3" startOffset="50%">0.8</textPath></text>
<use href="#p11_4" class="e"/><use href="#p11_4" class="f"/><text class="l"><textPath href="#p11_4" startOffset="50%">0.6</textPath></text>
<use href="#p11_5" class="e"/><use href="#p11_5" class="s"/><text class="l"><textPath href="#p11_5" startOffset="50%">0.1</textPath></text>
<use href="#p11_6" class="e"/><use href="#p11_6" class="f"/><text class="l"><textPath href="#p11_6" startOffset="50%">0.4</textPath></text>
<use href="#p11_7" class="e"/><text class="l"><textPath href="#p11_7" startOffset="50%">0.6</textPath></text>
<use href="#p11_8" class="e"/><use href="#p11_8" class="s"/><text class="l"><textPath href="#p11_8" startOffset="50%">0.3</textPath></text>
<use href="#p11_9" class="e"/><use href="#p11_9" class="s"/><text class="l"><textPath href="#p11_9" startOffset="50%">0.1</textPath></text>
<use href="#p11_10" class="e"/><use href="#p11_10" class="s"/><text class="l"><textPath href="#p11_10" startOffset="50%">0.9</textPath></text>
</g>
<g id="G11-a"><circle class="n" cx="389" cy="275" r="4.8"/><text class="nl" x="389" y="276.6">a</text></g>
<g id="G11-b"><circle class="n" cx="435" cy="283" r="4.8"/><text class="nl" x="435" y="284.6">b</text></g>
<g id="G11-c"><circle class="n" cx="351" cy="298" r="4.8"/><text class="nl" x="351" y="299.6">c</text></g>
<g id="G11-d"><circle class="n" cx="455" cy="316" r="4.8"/><text class="nl" x="455" y="317.6">d</text></g>
<g id="G11-e"><circle class="n" cx="351" cy="333" r="4.8"/><text class="nl" x="351" y="334.6">e</text></g>
<g id="G11-f"><circle class="n" cx="435" cy="348" r="4.8"/><text class="nl" x="435" y="349.6">f</text></g>
<g id="G11-g"><circle class="n" cx="389" cy="357" r="4.8"/><text class="nl" x="389" y="358.6">g</text></g>
<text class="gl" x="391" y="399">G11</text>
</g>

<g id="G12">
<g class="connectors">
<use href="#p12_1" class="e"/><use href="#p12_1" class="b"/><text class="l"><textPath href="#p12_1" startOffset="50%">0.6</textPath></text>
<use href="#p12_2" class="e"/><text class="l"><textPath href="#p12_2" startOffset="50%">0.4</textPath></text>
<use href="#p12_3" class="e"/><use href="#p12_3" class="s"/><text class="l"><textPath href="#p12_3" startOffset="50%">0.7</textPath></text>
<use href="#p12_4" class="e"/><use href="#p12_4" class="f"/><text class="l"><textPath href="#p12_4" startOffset="50%">0.5</textPath></text>
<use href="#p12_5" class="e"/><use href="#p12_5" class="s"/><text class="l"><textPath href="#p12_5" startOffset="50%">0.3</textPath></text>
</g>
<g id="G12-a"><circle class="n" cx="518" cy="275" r="4.8"/><text class="nl" x="518" y="276.6">a</text></g>
<g id="G12-b"><circle class="n" cx="579" cy="312" r="4.8"/><text class="nl" x="579" y="313.6">b</text></g>
<g id="G12-c"><circle class="n" cx="510" cy="327" r="4.8"/><text class="nl" x="510" y="328.6">c</text></g>
<g id="G12-d"><circle class="n" cx="608" cy="348" r="4.8"/><text class="nl" x="608" y="349.6">d</text></g>
<text class="gl" x="560" y="399">G12</text>
</g>

<g id="G13">
<g class="connectors">
<use href="#p13_1" class="e"/><use href="#p13_1" class="s"/><text class="l"><textPath href="#p13_1" startOffset="50%">0.7</textPath></text>
<use href="#p13_2" class="e"/><use href="#p13_2" class="b"/><text class="l"><textPath href="#p13_2" startOffset="50%">0.2</textPath></text>
<use href="#p13_3" class="e"/><use href="#p13_3" class="f"/><text class="l"><textPath href="#p13_3" startOffset="50%">0.3</textPath></text>
</g>
<g id="G13-a"><circle class="n" cx="741" cy="288" r="4.8"/><text class="nl" x="741" y="289.6">a</text></g>
<g id="G13-b"><circle class="n" cx="672" cy="318" r="4.8"/><text class="nl" x="672" y="319.6">b</text></g>
<g id="G13-c"><circle class="n" cx="770" cy="360" r="4.8"/><text class="nl" x="770" y="361.6">c</text></g>
<text class="gl" x="722" y="401">G13</text>
</g>

<g id="G14">
<g class="connectors">
<use href="#p14_1" class="e"/><use href="#p14_1" class="s"/><text class="l"><textPath href="#p14_1" startOffset="50%">0.5</textPath></text>
<use href="#p14_2" class="e"/><use href="#p14_2" class="f"/><text class="l"><textPath href="#p14_2" startOffset="50%">0.2</textPath></text>
<use href="#p14_3" class="e"/><use href="#p14_3" class="s"/><text class="l"><textPath href="#p14_3" startOffset="50%">0.7</textPath></text>
<use href="#p14_4" class="e"/><use href="#p14_4" class="f"/><text class="l"><textPath href="#p14_4" startOffset="50%">0.6</textPath></text>
<use href="#p14_5" class="e"/><use href="#p14_5" class="s"/><text class="l"><textPath href="#p14_5" startOffset="50%">0.8</textPath></text>
<use href="#p14_6" class="e"/><use href="#p14_6" class="f"/><text class="l"><textPath href="#p14_6" startOffset="50%">0.9</textPath></text>
<use href="#p14_7" class="e"/><use href="#p14_7" class="s"/><text class="l"><textPath href="#p14_7" startOffset="50%">0.2</textPath></text>
<use href="#p14_8" class="e"/><use href="#p14_8" class="f"/><text class="l"><textPath href="#p14_8" startOffset="50%">0.6</textPath></text>
<use href="#p14_9" class="e"/><use href="#p14_9" class="f"/><text class="l"><textPath href="#p14_9" startOffset="50%">0.8</textPath></text>
<use href="#p14_10" class="e"/><use href="#p14_10" class="f"/><text class="l"><textPath href="#p14_10" startOffset="50%">0.3</textPath></text>
</g>
<g id="G14-a"><circle class="n" cx="848" cy="279" r="4.8"/><text class="nl" x="848" y="280.6">a</text></g>
<g id="G14-b"><circle class="n" cx="903" cy="279" r="4.8"/><text class="nl" x="903" y="280.6">b</text></g>
<g id="G14-c"><circle class="n" cx="821" cy="316" r="4.8"/><text class="nl" x="821" y="317.6">c</text></g>
<g id="G14-d"><circle class="n" cx="930" cy="316" r="4.8"/><text class="nl" x="930" y="317.6">d</text></g>
<g id="G14-e"><circle class="n" cx="848" cy="352" r="4.8"/><text class="nl" x="848" y="353.6">e</text></g>
<g id="G14-f"><circle class="n" cx="903" cy="352" r="4.8"/><text class="nl" x="903" y="353.6">f</text></g>
<text class="gl" x="889" y="401">G14</text>
</g>

<g id="G15">
<g class="connectors">
<use href="#p15_1" class="e"/><use href="#p15_1" class="f"/><text class="l"><textPath href="#p15_1" startOffset="50%">0.5</textPath></text>
<use href="#p15_2" class="e"/><use href="#p15_2" class="s"/><text class="l"><textPath href="#p15_2" startOffset="50%">0.7</textPath></text>
<use href="#p15_3" class="e"/><use href="#p15_3" class="f"/><text class="l"><textPath href="#p15_3" startOffset="50%">0.2</textPath></text>
<use href="#p15_4" class="e"/><use href="#p15_4" class="f"/><text class="l"><textPath href="#p15_4" startOffset="50%">0.3</textPath></text>
<use href="#p15_5" class="e"/><use href="#p15_5" class="s"/><text class="l"><textPath href="#p15_5" startOffset="50%">0.5</textPath></text>
<use href="#p15_6" class="e"/><use href="#p15_6" class="s"/><text class="l"><textPath href="#p15_6" startOffset="50%">0.4</textPath></text>
</g>
<g id="G15-a"><circle class="n" cx="982" cy="291" r="4.8"/><text class="nl" x="982" y="292.6">a</text></g>
<g id="G15-b"><circle class="n" cx="1054" cy="276" r="4.8"/><text class="nl" x="1054" y="277.6">b</text></g>
<g id="G15-c"><circle class="n" cx="1100" cy="316" r="4.8"/><text class="nl" x="1100" y="317.6">c</text></g>
<g id="G15-d"><circle class="n" cx="982" cy="340" r="4.8"/><text class="nl" x="982" y="341.6">d</text></g>
<g id="G15-e"><circle class="n" cx="1054" cy="356" r="4.8"/><text class="nl" x="1054" y="357.6">e</text></g>
<text class="gl" x="1050" y="401">G15</text>
</g>

<g id="G16">
<g class="connectors">
<use href="#p16_1" class="e"/><use href="#p16_1" class="b"/><text class="l"><textPath href="#p16_1" startOffset="50%">0.7</textPath></text>
<use href="#p16_2" class="e"/><text class="l"><textPath href="#p16_2" startOffset="50%">0.6</textPath></text>
<use href="#p16_3" class="e"/><text class="l"><textPath href="#p16_3" startOffset="50%">0.3</textPath></text>
<use href="#p16_4" class="e"/><use href="#p16_4" class="s"/><text class="l"><textPath href="#p16_4" startOffset="50%">0.5</textPath></text>
<use href="#p16_5" class="e"/><use href="#p16_5" class="f"/><text class="l"><textPath href="#p16_5" startOffset="50%">0.8</textPath></text>
<use href="#p16_6" class="e"/><text class="l"><textPath href="#p16_6" startOffset="50%">0.4</textPath></text>
</g>
<g id="G16-a"><circle class="n" cx="1156" cy="275" r="4.8"/><text class="nl" x="1156" y="276.6">a</text></g>
<g id="G16-b"><circle class="n" cx="1216" cy="312" r="4.8"/><text class="nl" x="1216" y="313.6">b</text></g>
<g id="G16-c"><circle class="n" cx="1148" cy="327" r="4.8"/><text class="nl" x="1148" y="328.6">c</text></g>
<g id="G16-d"><circle class="n" cx="1245" cy="348" r="4.8"/><text class="nl" x="1245" y="349.6">d</text></g>
<text class="gl" x="1218" y="401">G16</text>
</g>

<!-- Row 3 -->
<g id="G17" class="r3">
<g class="connectors">
<use href="#p17_1" class="e"/><use href="#p17_1" class="b"/><text class="l l3"><textPath href="#p17_1" startOffset="50%">0.5</textPath></text>
</g>
<g id="G17-d"><circle class="n" cx="39" cy="488" r="6"/><text class="nl" x="39" y="490">d</text></g>
<g id="G17-f"><circle class="n" cx="138" cy="584" r="6"/><text class="nl" x="138" y="586">f</text></g>
<text class="gl" x="67" y="632">G17</text>
</g>

<g id="G18" class="r3">
<g class="connectors">
<use href="#p18_1" class="e"/><use href="#p18_1" class="s"/><text class="l l3"><textPath href="#p18_1" startOffset="50%">0.5</textPath></text>
<use href="#p18_2" class="e"/><use href="#p18_2" class="s"/><text class="l l3"><textPath href="#p18_2" startOffset="50%">0.5</textPath></text>
</g>
<g id="G18-d"><circle class="n" cx="213" cy="470" r="6"/><text class="nl" x="213" y="472">d</text></g>
<g id="G18-a"><circle class="n" cx="295" cy="520" r="6"/><text class="nl" x="295" y="522">a</text></g>
<g id="G18-b"><circle class="n" cx="203" cy="540" r="6"/><text class="nl" x="203" y="542">b</text></g>
<g id="G18-c"><circle class="n" cx="334" cy="568" r="6"/><text class="nl" x="334" y="570">c</text></g>
<text class="gl" x="235" y="632">G18</text>
</g>

<g id="G19" class="r3">
<g class="connectors">
<use href="#p19_1" class="e"/><use href="#p19_1" class="f"/><text class="l l3"><textPath href="#p19_1" startOffset="50%">0.5</textPath></text>
<use href="#p19_2" class="e"/><use href="#p19_2" class="s"/><text class="l l3"><textPath href="#p19_2" startOffset="50%">0.5</textPath></text>
<use href="#p19_3" class="e"/><use href="#p19_3" class="s"/><text class="l l3"><textPath href="#p19_3" startOffset="50%">0.5</textPath></text>
<use href="#p19_4" class="e"/><use href="#p19_4" class="f"/><text class="l l3"><textPath href="#p19_4" startOffset="50%">0.5</textPath></text>
</g>
<g id="G19-d"><circle class="n" cx="388" cy="470" r="6"/><text class="nl" x="388" y="472">d</text></g>
<g id="G19-a"><circle class="n" cx="469" cy="520" r="6"/><text class="nl" x="469" y="522">a</text></g>
<g id="G19-b"><circle class="n" cx="378" cy="540" r="6"/><text class="nl" x="378" y="542">b</text></g>
<g id="G19-c"><circle class="n" cx="508" cy="568" r="6"/><text class="nl" x="508" y="570">c</text></g>
<text class="gl" x="438" y="632">G19</text>
</g>

<g id="G20" class="r3">
<g class="connectors">
<use href="#p20_1" class="e"/><use href="#p20_1" class="f"/><text class="l l3"><textPath href="#p20_1" startOffset="50%">0.5</textPath></text>
<use href="#p20_2" class="e"/><use href="#p20_2" class="s"/><text class="l l3"><textPath href="#p20_2" startOffset="50%">0.5</textPath></text>
<use href="#p20_3" class="e"/><use href="#p20_3" class="s"/><text class="l l3"><textPath href="#p20_3" startOffset="50%">0.5</textPath></text>
<use href="#p20_4" class="e"/><use href="#p20_4" class="f"/><text class="l l3"><textPath href="#p20_4" startOffset="50%">0.5</textPath></text>
</g>
<g id="G20-d"><circle class="n" cx="575" cy="470" r="6"/><text class="nl" x="575" y="472">d</text></g>
<g id="G20-a"><circle class="n" cx="657" cy="520" r="6"/><text class="nl" x="657" y="522">a</text></g>
<g id="G20-b"><circle class="n" cx="565" cy="540" r="6"/><text class="nl" x="565" y="542">b</text></g>
<g id="G20-c"><circle class="n" cx="696" cy="568" r="6"/><text class="nl" x="696" y="570">c</text></g>
<text class="gl" x="626" y="632">G20</text>
</g>

<g id="G21" class="r3">
<g class="connectors">
<use href="#p21_1" class="e"/><use href="#p21_1" class="s"/><text class="l l3"><textPath href="#p21_1" startOffset="50%">0.9</textPath></text>
<use href="#p21_2" class="e"/><use href="#p21_2" class="s"/><text class="l l3"><textPath href="#p21_2" startOffset="50%">0.8</textPath></text>
<use href="#p21_3" class="e"/><use href="#p21_3" class="s"/><text class="l l3"><textPath href="#p21_3" startOffset="50%">0.9</textPath></text>
<use href="#p21_4" class="e"/><use href="#p21_4" class="s"/><text class="l l3"><textPath href="#p21_4" startOffset="50%">0.1</textPath></text>
<use href="#p21_5" class="e"/><use href="#p21_5" class="s"/><text class="l l3"><textPath href="#p21_5" startOffset="50%">0.05</textPath></text>
<use href="#p21_6" class="e"/><use href="#p21_6" class="f"/><text class="l l3"><textPath href="#p21_6" startOffset="50%">0.8</textPath></text>
<use href="#p21_7" class="e"/><use href="#p21_7" class="f"/><text class="l l3"><textPath href="#p21_7" startOffset="50%">0.9</textPath></text>
<use href="#p21_8" class="e"/><text class="l l3"><textPath href="#p21_8" startOffset="50%">0.05</textPath></text>
<use href="#p21_9" class="e"/><use href="#p21_9" class="s"/><text class="l l3"><textPath href="#p21_9" startOffset="50%">0.2</textPath></text>
<use href="#p21_10" class="e"/><use href="#p21_10" class="s"/><text class="l l3"><textPath href="#p21_10" startOffset="50%">0.7</textPath></text>
</g>
<g id="G21-b"><circle class="n" cx="795" cy="469" r="6"/><text class="nl" x="795" y="471">b</text></g>
<g id="G21-c"><circle class="n" cx="858" cy="481" r="6"/><text class="nl" x="858" y="483">c</text></g>
<g id="G21-e"><circle class="n" cx="745" cy="500" r="6"/><text class="nl" x="745" y="502">e</text></g>
<g id="G21-a"><circle class="n" cx="885" cy="524" r="6"/><text class="nl" x="885" y="526">a</text></g>
<g id="G21-d"><circle class="n" cx="745" cy="549" r="6"/><text class="nl" x="745" y="551">d</text></g>
<g id="G21-f"><circle class="n" cx="858" cy="568" r="6"/><text class="nl" x="858" y="570">f</text></g>
<g id="G21-g"><circle class="n" cx="795" cy="579" r="6"/><text class="nl" x="795" y="581">g</text></g>
<text class="gl" x="826" y="628">G21</text>
</g>

<g id="G22" class="r3">
<g class="connectors">
<use href="#p22_1" class="e"/><use href="#p22_1" class="f"/><text class="l l3"><textPath href="#p22_1" startOffset="50%">0.6</textPath></text>
<use href="#p22_2" class="e"/><use href="#p22_2" class="s"/><text class="l l3"><textPath href="#p22_2" startOffset="50%">0.3</textPath></text>
<use href="#p22_3" class="e"/><use href="#p22_3" class="f"/><text class="l l3"><textPath href="#p22_3" startOffset="50%">0.5</textPath></text>
<use href="#p22_4" class="e"/><use href="#p22_4" class="s"/><text class="l l3"><textPath href="#p22_4" startOffset="50%">0.2</textPath></text>
<use href="#p22_5" class="e"/><use href="#p22_5" class="s"/><text class="l l3"><textPath href="#p22_5" startOffset="50%">0.7</textPath></text>
<use href="#p22_6" class="e"/><use href="#p22_6" class="s"/><text class="l l3"><textPath href="#p22_6" startOffset="50%">0.8</textPath></text>
<use href="#p22_7" class="e"/><use href="#p22_7" class="f"/><text class="l l3"><textPath href="#p22_7" startOffset="50%">0.8</textPath></text>
<use href="#p22_8" class="e"/><use href="#p22_8" class="s"/><text class="l l3"><textPath href="#p22_8" startOffset="50%">0.1</textPath></text>
<use href="#p22_9" class="e"/><use href="#p22_9" class="f"/><text class="l l3"><textPath href="#p22_9" startOffset="50%">0.4</textPath></text>
</g>
<g id="G22-b"><circle class="n" cx="958" cy="475" r="6"/><text class="nl" x="958" y="477">b</text></g>
<g id="G22-c"><circle class="n" cx="1030" cy="475" r="6"/><text class="nl" x="1030" y="477">c</text></g>
<g id="G22-e"><circle class="n" cx="921" cy="524" r="6"/><text class="nl" x="921" y="526">e</text></g>
<g id="G22-a"><circle class="n" cx="1068" cy="524" r="6"/><text class="nl" x="1068" y="526">a</text></g>
<g id="G22-d"><circle class="n" cx="958" cy="574" r="6"/><text class="nl" x="958" y="576">d</text></g>
<g id="G22-f"><circle class="n" cx="1030" cy="574" r="6"/><text class="nl" x="1030" y="576">f</text></g>
<text class="gl" x="1014" y="628">G22</text>
</g>

<g id="G23" class="r3">
<g class="connectors">
<use href="#p23_1" class="e"/><use href="#p23_1" class="f"/><text class="l l3"><textPath href="#p23_1" startOffset="50%">0.5</textPath></text>
<use href="#p23_2" class="e"/><use href="#p23_2" class="b"/><text class="l l3"><textPath href="#p23_2" startOffset="50%">0.5</textPath></text>
<use href="#p23_3" class="e"/><use href="#p23_3" class="s"/><text class="l l3"><textPath href="#p23_3" startOffset="50%">0.5</textPath></text>
<use href="#p23_4" class="e"/><use href="#p23_4" class="s"/><text class="l l3"><textPath href="#p23_4" startOffset="50%">0.5</textPath></text>
<use href="#p23_5" class="e"/><use href="#p23_5" class="f"/><text class="l l3"><textPath href="#p23_5" startOffset="50%">0.5</textPath></text>
<use href="#p23_6" class="e"/><use href="#p23_6" class="f"/><text class="l l3"><textPath href="#p23_6" startOffset="50%">0.5</textPath></text>
<use href="#p23_7" class="e"/><use href="#p23_7" class="s"/><text class="l l3"><textPath href="#p23_7" startOffset="50%">0.5</textPath></text>
</g>
<g id="G23-c"><circle class="n" cx="1198" cy="471" r="6"/><text class="nl" x="1198" y="473">c</text></g>
<g id="G23-b"><circle class="n" cx="1099" cy="492" r="6"/><text class="nl" x="1099" y="494">b</text></g>
<g id="G23-a"><circle class="n" cx="1259" cy="524" r="6"/><text class="nl" x="1259" y="526">a</text></g>
<g id="G23-e"><circle class="n" cx="1099" cy="558" r="6"/><text class="nl" x="1099" y="560">e</text></g>
<g id="G23-d"><circle class="n" cx="1198" cy="578" r="6"/><text class="nl" x="1198" y="580">d</text></g>
<text class="gl" x="1174" y="628">G23</text>
</g>
</svg>
